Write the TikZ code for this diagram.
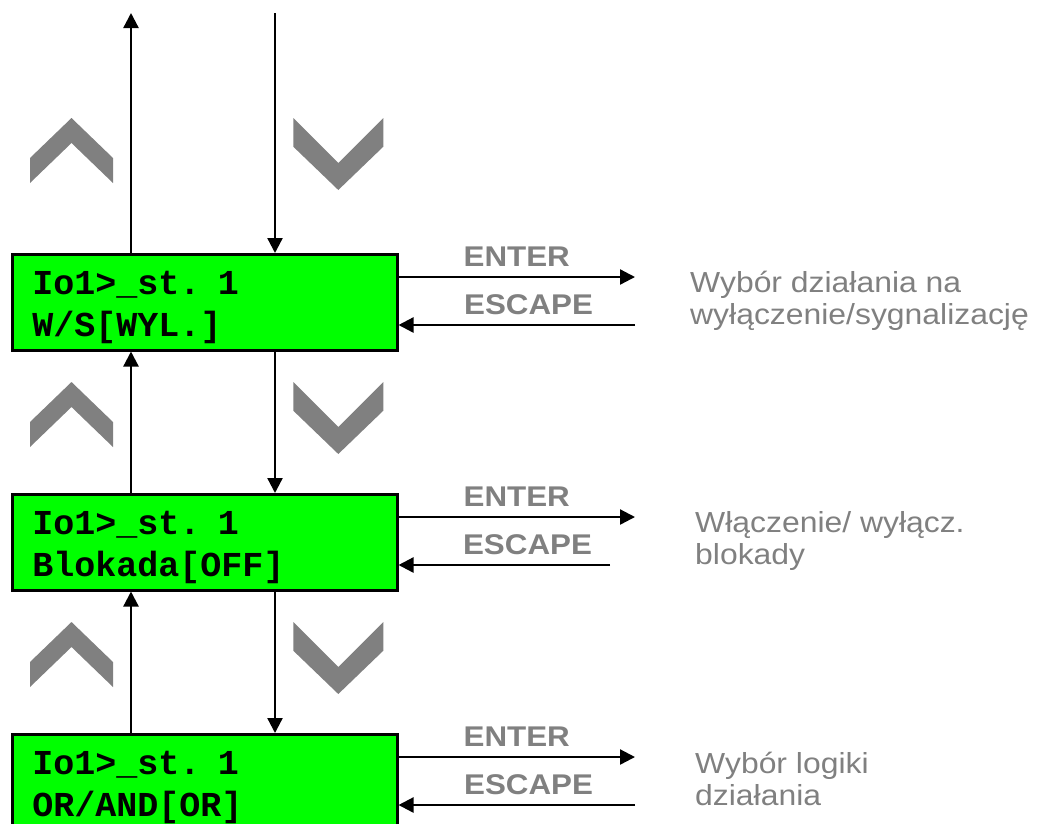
\documentclass[tikz,border=0pt]{standalone}
\usepackage{fontspec}
\setmainfont{Liberation Sans}[FakeStretch=1.1]
\newfontfamily\lcdfont{Liberation Mono}
\usepackage{xcolor}
\usepackage{tikz}
\usetikzlibrary{arrows.meta, calc, positioning}
\definecolor{lcdgreen}{HTML}{00FF00}
\definecolor{keygray}{HTML}{808080}
\newcommand{\lcdlines}[2]{\rule{0pt}{40pt}#1\\#2\rule[-14pt]{0pt}{14pt}}
\tikzset{
		lcd/.style={draw, line width=2.5pt, fill=lcdgreen, anchor=north west, inner xsep=20pt, inner ysep=0pt,
			minimum height=96pt, text width=345pt, align=left, font=\lcdfont\bfseries\fontsize{35}{42}\selectfont},
		conn/.style={line width=2.3pt, -{Triangle[length=15pt,width=15pt]}},
		key/.style={text=keygray, inner sep=0pt, font=\bfseries\fontsize{28.5}{32}\selectfont},
		desc/.style={text=keygray, inner sep=0pt, anchor=north west, align=left, font=\fontsize{29}{32}\selectfont},
		upchev/.pic={\fill[keygray] (-41.5,40) -- (0,0) -- (41.5,40) -- (41.5,65) -- (0,25) -- (-41.5,65) -- cycle;},
		downchev/.pic={\fill[keygray] (-45,0) -- (0,45) -- (45,0) -- (45,28.7) -- (0,72) -- (-45,28.7) -- cycle;}
	}
\begin{document}
\begin{tikzpicture}[x=1pt, y=-1pt]
				\useasboundingbox (0,0) rectangle (1040,823);
				% menu screens
				\node[lcd] (ws)     at (11,253) {\lcdlines{Io1>\_st. 1}{W/S[WYL.]}};
				\node[lcd] (blok)   at (11,493) {\lcdlines{Io1>\_st. 1}{Blokada[OFF]}};
				\node[lcd] (logika) at (11,733) {\lcdlines{Io1>\_st. 1}{OR/AND[OR]}};
				\coordinate (upx)   at (131,13);
				\coordinate (downx) at (275,13);
				% up / down keys
				\pic at (71.5,118) {upchev};
				\pic at (71.5,382) {upchev};
				\pic at (71.5,622) {upchev};
				\pic at (338.3,118) {downchev};
				\pic at (338.3,382) {downchev};
				\pic at (338.3,622) {downchev};
				\draw[conn] (ws.north -| upx) -- (upx);
				\draw[conn] (downx) -- (ws.north -| downx);
				\draw[conn] (blok.north -| upx) -- (ws.south -| upx);
				\draw[conn] (ws.south -| downx) -- (blok.north -| downx);
				\draw[conn] (logika.north -| upx) -- (blok.south -| upx);
				\draw[conn] (blok.south -| downx) -- (logika.north -| downx);
				% enter / escape
				\coordinate (ent1) at (635,277);
				\coordinate (esc1) at (635,325);
				\coordinate (ent2) at (635,517);
				\coordinate (esc2) at (610,565);
				\coordinate (ent3) at (635,757);
				\coordinate (esc3) at (635,805);
				\draw[conn] (ws.east |- ent1) -- (ent1) node[key, midway, above=9pt] (entl1) {ENTER};
				\draw[conn] (esc1) -- (ws.east |- esc1) node[key, pos=0.45, above=9pt] (escl1) {ESCAPE};
				\draw[conn] (blok.east |- ent2) -- (ent2) node[key, midway, above=9pt] (entl2) {ENTER};
				\draw[conn] (esc2) -- (blok.east |- esc2) node[key, pos=0.39, above=9pt] (escl2) {ESCAPE};
				\draw[conn] (logika.east |- ent3) -- (ent3) node[key, midway, above=9pt] (entl3) {ENTER};
				\draw[conn] (esc3) -- (logika.east |- esc3) node[key, pos=0.45, above=9pt] (escl3) {ESCAPE};
				% submenus
				\node[desc] (opis1) at (690,262) {\rule{0pt}{30pt}Wybór działania na\\wyłączenie/sygnalizację};
				\node[desc] (opis2) at (695,502) {\rule{0pt}{30pt}Włączenie/ wyłącz.\\blokady};
				\node[desc] (opis3) at (695,743) {\rule{0pt}{30pt}Wybór logiki\\działania};
			\end{tikzpicture}
\end{document}
